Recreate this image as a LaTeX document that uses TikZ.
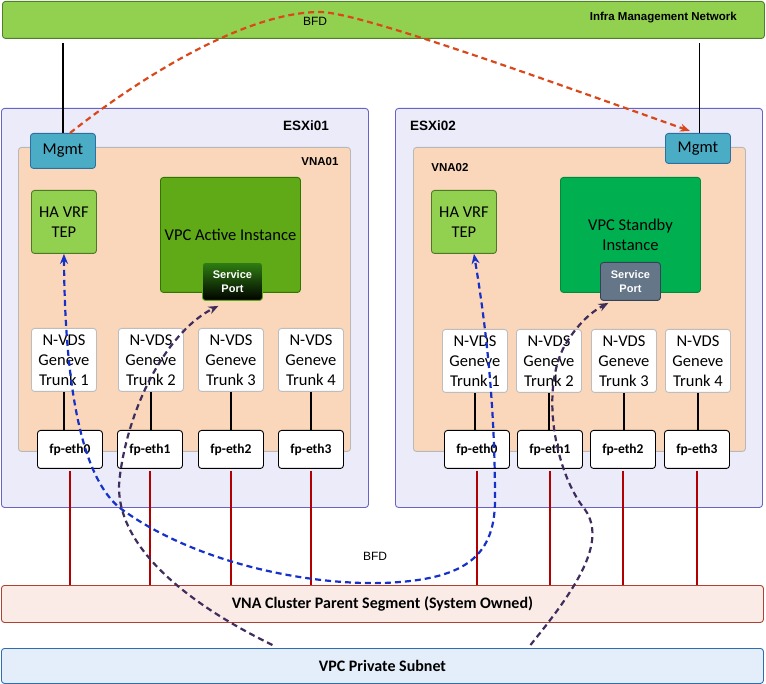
\documentclass[tikz,border=0pt]{standalone}
\usepackage{fontspec}
\setmainfont{Carlito}
\newfontfamily\arialf{Liberation Sans}
\usetikzlibrary{arrows.meta}
\definecolor{infraF}{HTML}{92D050}
\definecolor{infraD}{HTML}{4F7F2A}
\definecolor{esxF}{HTML}{ECEBFA}
\definecolor{esxD}{HTML}{6A63C6}
\definecolor{vnaF}{HTML}{FAD7BA}
\definecolor{vnaD}{HTML}{B8B8B8}
\definecolor{mgmtF}{HTML}{4BACC6}
\definecolor{mgmtD}{HTML}{2E6FA3}
\definecolor{tepD}{HTML}{4B7A27}
\definecolor{actF}{HTML}{60A917}
\definecolor{actD}{HTML}{2D7600}
\definecolor{spTop}{HTML}{2F7F12}
\definecolor{stbF}{HTML}{00B050}
\definecolor{stbD}{HTML}{008A3C}
\definecolor{sp2F}{HTML}{647687}
\definecolor{sp2D}{HTML}{314354}
\definecolor{trunkD}{HTML}{BDBDBD}
\definecolor{wireR}{HTML}{B20000}
\definecolor{segF}{HTML}{FAEBE6}
\definecolor{segD}{HTML}{AE4132}
\definecolor{subF}{HTML}{E4EEFA}
\definecolor{subD}{HTML}{2E6DB0}
\definecolor{bfdO}{HTML}{D9481A}
\definecolor{bfdB}{HTML}{1531C8}
\definecolor{vpcP}{HTML}{3F2D5E}
\begin{document}
\begin{tikzpicture}[x=1pt,y=-1pt,
  box/.style={draw, rounded corners=3pt, anchor=north west, inner sep=0pt, align=center, line width=0.9pt},
  lbl/.style={inner sep=0pt},
  cal/.style={font=\fontsize{16.5}{20}\selectfont},
  fpbox/.style={box, fill=white, draw=black, minimum width=65, minimum height=38, font=\bfseries\fontsize{13.5}{16}\selectfont},
  trunk/.style={box, fill=white, draw=trunkD, minimum width=65, minimum height=63, cal},
  blk/.style={draw=black, line width=2pt},
  redw/.style={draw=wireR, line width=2pt},
  dsh/.style={line width=2.2pt, dash pattern=on 6pt off 4pt},
]
\useasboundingbox (0,0) rectangle (766,684);

% top bar
\node[box, fill=infraF, draw=infraD, minimum width=762, minimum height=37] (infra) at (2,1) {};
\node[lbl, anchor=east, font=\arialf\bfseries\fontsize{11.5}{13}\selectfont] (infraT) at (737,18) {Infra Management Network};
\node[lbl, font=\arialf\fontsize{12}{14}\selectfont] (bfdTop) at (315,21) {BFD};

% hosts
\node[box, fill=esxF, draw=esxD, minimum width=367, minimum height=399] (esx1) at (1,108) {};
\node[box, fill=esxF, draw=esxD, minimum width=367, minimum height=399] (esx2) at (395,108) {};
\node[lbl, font=\arialf\bfseries\fontsize{13.5}{16}\selectfont] (esx1T) at (306,126) {ESXi01};
\node[lbl, font=\arialf\bfseries\fontsize{13.5}{16}\selectfont] (esx2T) at (433,126) {ESXi02};

% VNAs
\node[box, fill=vnaF, draw=vnaD, minimum width=332, minimum height=304] (vna1) at (18,147) {};
\node[box, fill=vnaF, draw=vnaD, minimum width=332, minimum height=304] (vna2) at (413,147) {};
\node[lbl, font=\arialf\bfseries\fontsize{11.5}{13}\selectfont] (vna1T) at (320,162) {VNA01};
\node[lbl, font=\arialf\bfseries\fontsize{11.5}{13}\selectfont] (vna2T) at (450,168) {VNA02};

% Mgmt
\node[box, fill=mgmtF, draw=mgmtD, minimum width=65, minimum height=35, cal] (m1) at (30,133) {Mgmt};
\node[box, fill=mgmtF, draw=mgmtD, minimum width=65, minimum height=30, cal] (m2) at (665,133) {Mgmt};
\draw[line width=1.6pt] (m1.north) -- ++(0,-90);
\draw[line width=1.6pt] ([xshift=1.5pt]m2.north) -- ++(0,-90);

% HA VRF TEP
\node[box, fill=infraF, draw=tepD, minimum width=65, minimum height=63, cal] (tep1) at (31,190) {HA VRF\\TEP};
\node[box, fill=infraF, draw=tepD, minimum width=65, minimum height=63, cal] (tep2) at (431,190) {HA VRF\\TEP};

% VPC instances
\node[box, fill=actF, draw=actD, minimum width=140, minimum height=115, cal] (vpc1) at (160,177) {VPC Active Instance};
\node[box, top color=spTop, bottom color=black, draw=actF, minimum width=60, minimum height=38, text=white, font=\arialf\bfseries\fontsize{11}{14}\selectfont] (sp1) at (202,262) {Service\\Port};
\node[box, fill=stbF, draw=stbD, minimum width=140, minimum height=115, cal] (vpc2) at (560,177) {VPC Standby\\Instance};
\node[box, fill=sp2F, draw=sp2D, minimum width=60, minimum height=38, text=white, font=\arialf\bfseries\fontsize{11}{14}\selectfont] (sp2) at (600,262) {Service\\Port};

% trunks
\foreach \i/\x in {1/31,2/118,3/198,4/278}
  \node[trunk] (nl\i) at (\x,328) {N-VDS\\Geneve\\Trunk \i};
\foreach \i/\x in {1/442,2/516,3/591,4/665}
  \node[trunk] (nr\i) at (\x,329) {N-VDS\\Geneve\\Trunk \i};

% fp-eth
\foreach \i/\x in {0/37,1/117,2/198,3/278}
  \node[fpbox] (fl\i) at (\x,430) {fp-eth\i};
\foreach \i/\x in {0/444,1/517,2/590,3/664}
  \node[fpbox] (fr\i) at (\x,430) {fp-eth\i};

% segments
\node[box, fill=segF, draw=segD, minimum width=762, minimum height=37, font=\bfseries\fontsize{16}{19}\selectfont] (seg) at (1,585) {VNA Cluster Parent Segment (System Owned)};
\node[box, fill=subF, draw=subD, minimum width=762, minimum height=35, font=\bfseries\fontsize{16}{19}\selectfont] (sub) at (1,648) {VPC Private Subnet};
\node[lbl, font=\arialf\fontsize{12}{14}\selectfont] (bfdLow) at (375,556) {BFD};

% wires
\foreach \i/\j in {1/0,2/1,3/2,4/3} {
  \draw[blk] (nl\i.south) -- (nl\i.south |- fl\j.north);
  \draw[blk] (nr\i.south) -- (nr\i.south |- fr\j.north);
}
\foreach \j in {0,1,2,3} {
  \draw[redw] ([yshift=-2pt]fl\j.south) -- (fl\j.south |- seg.north);
  \draw[redw] ([yshift=-2pt]fr\j.south) -- (fr\j.south |- seg.north);
}

% BFD between Mgmt
\draw[dsh, draw=bfdO, -{Stealth[length=10pt,width=8pt]}] ([xshift=7pt]m1.north)
  .. controls (150,70) and (250,12) .. (320,12)
  .. controls (360,12) and (560,85) .. ([xshift=-8pt,yshift=2pt]m2.north);

% BFD between TEPs
\draw[dsh, draw=bfdB, {Stealth[length=10pt,width=8pt]}-{Stealth[length=10pt,width=8pt]}] (tep1.south)
  .. controls (65,400) and (85,480) .. (120,508)
  .. controls (190,560) and (300,585) .. (383,583)
  .. controls (460,580) and (495,560) .. (495,500)
  .. controls (495,400) and (485,320) .. ([xshift=10pt]tep2.south);

% service port paths
\draw[dsh, draw=vpcP, -{Stealth[length=10pt,width=8pt]}] ([xshift=-110pt,yshift=3pt]sub.north)
  .. controls (180,600) and (110,540) .. (120,475)
  .. controls (130,400) and (170,330) .. ([xshift=-14pt,yshift=-5pt]sp1.south);
\draw[dsh, draw=vpcP, -{Stealth[length=10pt,width=8pt]}] ([xshift=148pt,yshift=3pt]sub.north)
  .. controls (575,590) and (610,540) .. (583,507)
  .. controls (555,470) and (540,390) .. (565,345)
  .. controls (580,320) and (595,310) .. ([xshift=-22pt,yshift=-2pt]sp2.south);
\end{tikzpicture}
\end{document}
